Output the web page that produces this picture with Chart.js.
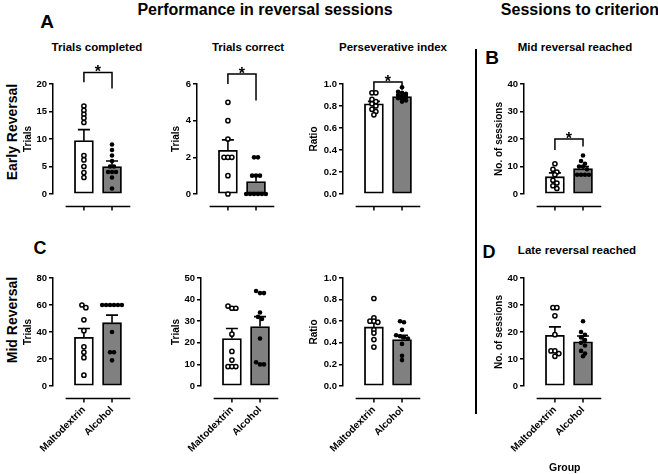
<!DOCTYPE html>
<html>
<head>
<meta charset="utf-8">
<script src="https://cdn.jsdelivr.net/npm/chart.js@4.4.1/dist/chart.umd.min.js"></script>
<style>
body { margin: 0; background: #fff; }
#wrap { position: relative; width: 658px; height: 474px; overflow: hidden; font-family: 'Liberation Sans', Arial, sans-serif; font-weight: bold; color: #000; }
#wrap canvas { position: absolute; }
.t { position: absolute; transform: translate(-50%, -50%); white-space: nowrap; }
.rot { transform: translate(-50%, -50%) rotate(-90deg); }
#divider { position: absolute; left: 475px; top: 49px; width: 1.5px; height: 365px; background: #000; }
</style>
</head>
<body>
<div id="wrap">
  <div class="t" style="left:265px;top:10px;font-size:16px">Performance in reversal sessions</div>
  <div class="t" style="left:580px;top:10px;font-size:16px">Sessions to criterion</div>
  <div class="t" style="left:47px;top:22px;font-size:19px">A</div>
  <div class="t" style="left:492px;top:58px;font-size:19px">B</div>
  <div class="t" style="left:40px;top:248px;font-size:18px">C</div>
  <div class="t" style="left:489px;top:252px;font-size:18px">D</div>
  <div class="t" style="left:97px;top:47px;font-size:11.5px">Trials completed</div>
  <div class="t" style="left:248px;top:47px;font-size:11.5px">Trials correct</div>
  <div class="t" style="left:393px;top:47px;font-size:11.5px">Perseverative index</div>
  <div class="t" style="left:575px;top:47px;font-size:11.5px">Mid reversal reached</div>
  <div class="t" style="left:577px;top:250px;font-size:11.5px">Late reversal reached</div>
  <div class="t rot" style="left:12px;top:132px;font-size:14px">Early Reversal</div>
  <div class="t rot" style="left:12px;top:320px;font-size:14px">Mid Reversal</div>
  <div id="divider"></div>
</div>
<script>
const groups = ['Maltodextrin', 'Alcohol'];

// early reversal - individual animals, bar means and SEM
const completedMalto = [16, 15.2, 14.5, 13.8, 13, 7, 6.2, 5, 3.9, 3];
const completedAlc = [9, 8, 7, 6, 5, 5, 4, 4, 4, 3, 1];
const completedMean = [9.7, 5.0];
const completedSem = [2.0, 1.0];

const correctMalto = [5, 4, 3, 2, 2, 2, 1, 0];
const correctAlc = [2, 2, 1, 1, 1, 0, 0, 0, 0, 0, 0];
const correctMean = [2.38, 0.68];
const correctSem = [0.57, 0.34];

const perseverMalto = [0.92, 0.92, 0.86, 0.84, 0.82, 0.80, 0.77, 0.75, 0.72];
const perseverAlc = [0.97, 0.93, 0.92, 0.91, 0.90, 0.89, 0.88, 0.87, 0.86, 0.85, 0.84];
const perseverMean = [0.82, 0.885];
const perseverSem = [0.022, 0.012];

const midReachedMalto = [11, 9, 8, 7, 5, 4, 3, 2];
const midReachedAlc = [14, 12, 11, 10, 10, 9, 7, 7, 7, 7];
const midReachedMean = [6.3, 9.2];
const midReachedSem = [1.4, 0.8];

// mid reversal
const midCompletedMalto = [60, 58, 49, 41, 29, 25, 21, 8];
const midCompletedAlc = [60, 60, 60, 60, 60, 60, 40, 25, 25, 19];
const midCompletedMean = [36, 46.9];
const midCompletedSem = [6.6, 5.6];

const midCorrectMalto = [37, 36, 36, 24, 16, 12, 9, 9, 9];
const midCorrectAlc = [44, 43, 43, 34, 32, 31, 22, 11, 10, 10];
const midCorrectMean = [22, 27.5];
const midCorrectSem = [4.6, 4.6];

const midPerseverMalto = [0.81, 0.63, 0.60, 0.60, 0.59, 0.52, 0.49, 0.43, 0.36];
const midPerseverAlc = [0.60, 0.59, 0.52, 0.47, 0.46, 0.45, 0.44, 0.39, 0.28, 0.24];
const midPerseverMean = [0.547, 0.43];
const midPerseverSem = [0.06, 0.04];

const lateReachedMalto = [29, 29, 26, 19, 13, 13, 12, 11];
const lateReachedAlc = [24, 20, 19, 18, 17, 16, 15, 13, 12, 11];
const lateReachedMean = [18.8, 16.4];
const lateReachedSem = [3.1, 2.1];

// significance brackets: [top, left leg end, right leg end]
const completedSig = [22.1, 20.3, 19.2];
const correctSig = [6.54, 6.0, 5.1];
const perseverSig = [1.018, 0.927, 0.948];
const midReachedSig = [20, 16, 17.3];

Chart.defaults.font.family = "'Liberation Sans', Arial, sans-serif";
Chart.defaults.color = '#000';

// error bars, offset x axis and brackets, Prism style
const prism = {
  id: 'prism',
  afterDatasetDraw(chart, args, opts) {
    if (args.index !== 0) return;
    const ctx = chart.ctx, x = chart.scales.x, y = chart.scales.y;
    ctx.save();
    ctx.strokeStyle = '#000';
    ctx.lineWidth = 1.6;
    opts.mean.forEach((m, i) => {
      const px = x.getPixelForValue(i + 1);
      const y0 = y.getPixelForValue(m);
      const y1 = y.getPixelForValue(m + opts.sem[i]);
      ctx.beginPath();
      ctx.moveTo(px, y0); ctx.lineTo(px, y1);
      ctx.moveTo(px - 6, y1); ctx.lineTo(px + 6, y1);
      ctx.stroke();
    });
    ctx.restore();
  },
  afterDraw(chart, args, opts) {
    const ctx = chart.ctx, x = chart.scales.x, y = chart.scales.y;
    const yl = chart.chartArea.bottom + 12.5;
    ctx.save();
    ctx.strokeStyle = '#000';
    ctx.lineWidth = 1.5;
    ctx.beginPath();
    ctx.moveTo(x.getPixelForValue(0.35), yl);
    ctx.lineTo(x.getPixelForValue(2.65), yl);
    [1, 2].forEach(v => {
      const p = x.getPixelForValue(v);
      ctx.moveTo(p, yl); ctx.lineTo(p, yl + 4);
    });
    ctx.stroke();
    if (opts.sig) {
      const xl = x.getPixelForValue(1), xr = x.getPixelForValue(2);
      const yt = y.getPixelForValue(opts.sig[0]);
      ctx.beginPath();
      ctx.moveTo(xl, y.getPixelForValue(opts.sig[1]));
      ctx.lineTo(xl, yt); ctx.lineTo(xr, yt);
      ctx.lineTo(xr, y.getPixelForValue(opts.sig[2]));
      ctx.stroke();
      ctx.font = "bold 16px 'Liberation Sans', Arial, sans-serif";
      ctx.textAlign = 'center';
      ctx.textBaseline = 'alphabetic';
      ctx.fillStyle = '#000';
      ctx.fillText('*', (xl + xr) / 2, yt + 5);
    }
    ctx.restore();
  }
};
Chart.register(prism);

// place dots side by side when they would overlap
function spread(values, center, thr) {
  const sorted = values.slice().sort((a, b) => b - a);
  const pts = [];
  let i = 0;
  while (i < sorted.length) {
    let j = i;
    while (j < sorted.length && sorted[i] - sorted[j] < thr) j++;
    const n = j - i;
    for (let k = 0; k < n; k++) {
      pts.push({ x: center + (k - (n - 1) / 2) * 0.14, y: sorted[i + k] });
    }
    i = j;
  }
  return pts;
}

function panel(box, ycfg, malto, alc, mean, sem, sig, showLabels, xTitle) {
  const cv = document.createElement('canvas');
  cv.width = box.w;
  cv.height = box.h;
  cv.style.left = box.x + 'px';
  cv.style.top = box.y + 'px';
  document.getElementById('wrap').appendChild(cv);
  const thr = ycfg.max * 0.03;
  new Chart(cv, {
    type: 'bar',
    data: {
      datasets: [
        { data: mean.map((m, i) => ({ x: i + 1, y: m })), backgroundColor: ['#fff', '#808080'],
          borderColor: '#000', borderWidth: 1.8, borderSkipped: false, barThickness: 19, order: 2 },
        { type: 'scatter', data: spread(malto, 1, thr), pointRadius: 2.1, pointBackgroundColor: '#fff',
          pointBorderColor: '#000', pointBorderWidth: 1.5, clip: false, order: 1 },
        { type: 'scatter', data: spread(alc, 2, thr), pointRadius: 2.3, pointBackgroundColor: '#000',
          pointBorderColor: '#000', pointBorderWidth: 0, clip: false, order: 1 }
      ]
    },
    options: {
      responsive: false,
      animation: false,
      layout: { padding: { top: box.pt, left: 0, right: 0, bottom: 0 } },
      plugins: { legend: { display: false }, tooltip: { enabled: false }, prism: { mean: mean, sem: sem, sig: sig } },
      scales: {
        x: {
          type: 'linear', min: -0.1, max: 2.8, offset: false,
          grid: { display: false, drawTicks: false }, border: { display: false },
          afterBuildTicks: s => { s.ticks = [{ value: 1 }, { value: 2 }]; },
          afterFit: s => { s.height = box.hx; s.paddingLeft = 0; s.paddingRight = 0; },
          ticks: { display: showLabels, autoSkip: false, minRotation: 45, maxRotation: 45, padding: 18,
                   font: { size: 10, weight: 'bold' }, callback: v => groups[v - 1] },
          title: { display: !!xTitle, text: xTitle || '', padding: 0, font: { size: 10.5, weight: 'bold' } }
        },
        y: {
          min: 0, max: ycfg.max,
          afterFit: s => { s.width = box.wy; },
          ticks: { stepSize: ycfg.step, padding: 2, font: { size: 9.5, weight: 'bold' },
                   callback: v => v.toFixed(ycfg.dec) },
          grid: { drawOnChartArea: false, tickLength: 4, color: '#000', lineWidth: 1.5 },
          border: { color: '#000', width: 1.5 },
          title: { display: true, text: ycfg.title, padding: 0, font: { size: 10, weight: 'bold' } }
        }
      }
    }
  });
}

const row1 = { y: 55, h: 159, pt: 29, hx: 20 };
const row2 = { y: 250, h: 224, pt: 28, hx: 88 };

panel(Object.assign({ x: 22, w: 118, wy: 31 }, row1), { max: 20, step: 5, dec: 0, title: 'Trials' },
  completedMalto, completedAlc, completedMean, completedSem, completedSig, false);
panel(Object.assign({ x: 170, w: 114, wy: 27 }, row1), { max: 6, step: 2, dec: 0, title: 'Trials' },
  correctMalto, correctAlc, correctMean, correctSem, correctSig, false);
panel(Object.assign({ x: 308, w: 122, wy: 35 }, row1), { max: 1, step: 0.2, dec: 1, title: 'Ratio' },
  perseverMalto, perseverAlc, perseverMean, perseverSem, perseverSig, false);
panel(Object.assign({ x: 493, w: 118, wy: 31 }, row1), { max: 40, step: 10, dec: 0, title: 'No. of sessions' },
  midReachedMalto, midReachedAlc, midReachedMean, midReachedSem, midReachedSig, false);

panel(Object.assign({ x: 22, w: 118, wy: 31 }, row2), { max: 80, step: 20, dec: 0, title: 'Trials' },
  midCompletedMalto, midCompletedAlc, midCompletedMean, midCompletedSem, null, true);
panel(Object.assign({ x: 170, w: 118, wy: 31 }, row2), { max: 50, step: 10, dec: 0, title: 'Trials' },
  midCorrectMalto, midCorrectAlc, midCorrectMean, midCorrectSem, null, true);
panel(Object.assign({ x: 308, w: 122, wy: 35 }, row2), { max: 1, step: 0.2, dec: 1, title: 'Ratio' },
  midPerseverMalto, midPerseverAlc, midPerseverMean, midPerseverSem, null, true);
panel(Object.assign({ x: 493, w: 118, wy: 31 }, row2), { max: 40, step: 10, dec: 0, title: 'No. of sessions' },
  lateReachedMalto, lateReachedAlc, lateReachedMean, lateReachedSem, null, true, 'Group');
</script>
</body>
</html>
